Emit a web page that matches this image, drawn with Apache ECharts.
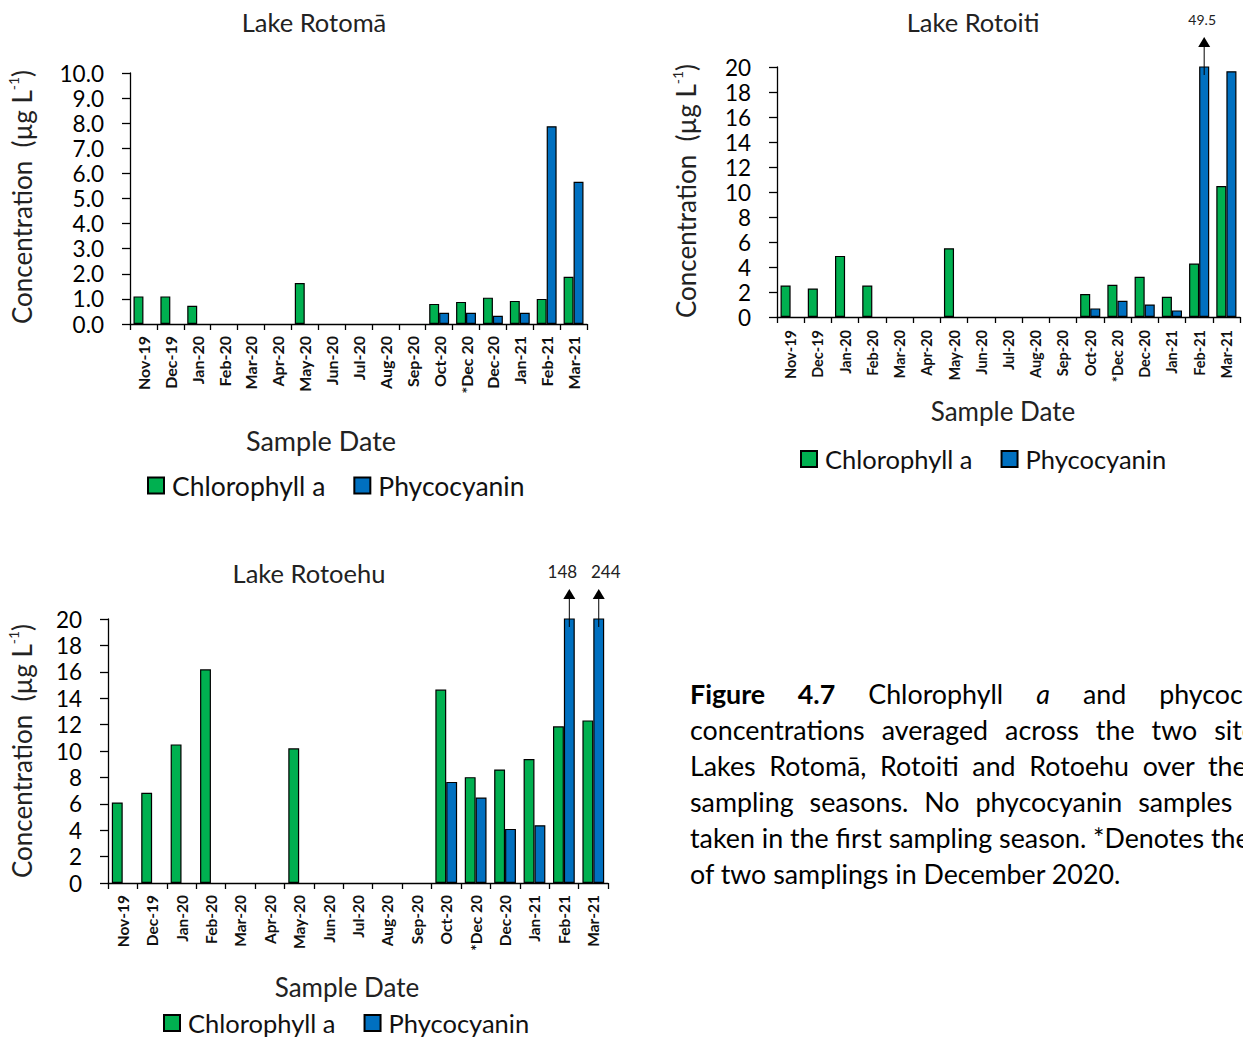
<!DOCTYPE html>
<html>
<head>
<meta charset="utf-8">
<script src="https://cdn.jsdelivr.net/npm/echarts@6/dist/echarts.min.js"></script>
<style>
  html, body { margin: 0; padding: 0; background: #fff; width: 1243px; height: 1040px; overflow: hidden; }
  #chart { position: absolute; left: 0; top: 0; width: 1243px; height: 1040px; }
  #caption { position: absolute; left: 690px; top: 676px; width: 616px;
             font-family: Lato, sans-serif; font-size: 26.8px; line-height: 36px; color: #000; }
  #caption div { white-space: nowrap; }
  #caption .j { text-align: justify; text-align-last: justify; white-space: normal; }
</style>
</head>
<body>
<div id="chart"></div>
<div id="caption">
  <div class="j"><b>Figure 4.7</b> Chlorophyll <i>a</i> and phycocyanin</div>
  <div class="j">concentrations averaged across the two sites in</div>
  <div class="j">Lakes Rotomā, Rotoiti and Rotoehu over the two</div>
  <div class="j">sampling seasons. No phycocyanin samples were</div>
  <div>taken in the first sampling season. *Denotes the first</div>
  <div>of two samplings in December 2020.</div>
</div>
<script>
// Sampling months (x categories, shared by all three lakes)
const months = ['Nov-19', 'Dec-19', 'Jan-20', 'Feb-20', 'Mar-20', 'Apr-20', 'May-20', 'Jun-20',
  'Jul-20', 'Aug-20', 'Sep-20', 'Oct-20', '*Dec 20', 'Dec-20', 'Jan-21', 'Feb-21', 'Mar-21'];

// Concentrations in µg/L (null = not sampled)
const rotomaChl = [1.1, 1.1, 0.73, null, null, null, 1.63, null, null, null, null, 0.8, 0.88, 1.05, 0.92, 1.0, 1.88];
const rotomaPhy = [null, null, null, null, null, null, null, null, null, null, null, 0.45, 0.45, 0.33, 0.45, 7.88, 5.67];

const rotoitiChl = [2.52, 2.28, 4.89, 2.52, null, null, 5.5, null, null, null, null, 1.84, 2.58, 3.22, 1.62, 4.28, 10.48];
const rotoitiPhy = [null, null, null, null, null, null, null, null, null, null, null, 0.69, 1.3, 1.0, 0.53, 49.5, 19.66];

const rotoehuChl = [6.1, 6.83, 10.5, 16.19, null, null, 10.2, null, null, null, null, 14.65, 8.02, 8.6, 9.39, 11.87, 12.32];
const rotoehuPhy = [null, null, null, null, null, null, null, null, null, null, null, 7.66, 6.48, 4.1, 4.38, 148, 244];

const GREEN = '#00B050';
const BLUE = '#0070C0';
const FONT = 'Lato';
const BAR_FRAC = 0.37;   // each bar as a fraction of the category width

const panels = [
  { title: 'Lake Rotomā', chl: rotomaChl, phy: rotomaPhy, yMax: 10, yStep: 1, decimals: 1,
    grid: { left: 130, top: 73, width: 457, height: 251 },
    titlePos: [314, 22], xNamePos: [321, 440], xNameSize: 27, yNamePos: [22, 197],
    legend: { left: 147, top: 472, font: 26.5 }, yLabelSize: 22.5, xLabelSize: 16, xLabelMargin: 12,
    arrowFont: 14, arrowLabelDx: [] },
  { title: 'Lake Rotoiti', chl: rotoitiChl, phy: rotoitiPhy, yMax: 20, yStep: 2, decimals: 0,
    grid: { left: 777, top: 67, width: 463, height: 250 },
    titlePos: [973, 22], xNamePos: [1003, 411], xNameSize: 26, yNamePos: [686, 191],
    legend: { left: 800, top: 446, font: 25.5 }, yLabelSize: 22.5, xLabelSize: 14.5, xLabelMargin: 13,
    arrowFont: 14, arrowLabelDx: [-2] },
  { title: 'Lake Rotoehu', chl: rotoehuChl, phy: rotoehuPhy, yMax: 20, yStep: 2, decimals: 0,
    grid: { left: 108, top: 619, width: 500, height: 264 },
    titlePos: [309, 573], xNamePos: [347, 987], xNameSize: 26, yNamePos: [22, 751],
    legend: { left: 163, top: 1010, font: 25.5 }, yLabelSize: 22.5, xLabelSize: 15.5, xLabelMargin: 12,
    arrowFont: 17, arrowLabelDx: [-7, 7] }
];

// Upward arrow + value for bars that run past the top of the axis
function overflowArrow(p) {
  return function (params, api) {
    const k = api.value(0);
    const v = api.value(1);
    const top = api.coord([k, p.yMax]);
    const catW = api.size([1, 0])[0];
    const x = top[0] + catW * BAR_FRAC / 2;
    const tip = top[1] - 30;
    const dx = p.arrowLabelDx[params.dataIndex] || 0;
    return {
      type: 'group',
      children: [
        { type: 'line', shape: { x1: x, y1: top[1] + 8, x2: x, y2: tip + 8 },
          style: { stroke: '#000', lineWidth: 1 } },
        { type: 'polygon', shape: { points: [[x, tip], [x - 6, tip + 10], [x + 6, tip + 10]] },
          style: { fill: '#000' } },
        { type: 'text', x: x + dx, y: tip - 18,
          style: { text: String(v), align: 'center', verticalAlign: 'middle',
                   font: p.arrowFont + 'px ' + FONT, fill: '#222' } }
      ]
    };
  };
}

const option = {
  animation: false,
  backgroundColor: '#fff',
  grid: panels.map(p => Object.assign({ containLabel: false }, p.grid)),
  xAxis: panels.map((p, i) => ({
    type: 'category', gridIndex: i, data: months,
    axisLine: { lineStyle: { color: '#000', width: 1.3 } },
    axisTick: { show: true, length: 6, lineStyle: { color: '#000', width: 1.3 } },
    axisLabel: { rotate: 90, interval: 0, margin: p.xLabelMargin, fontSize: p.xLabelSize,
                 fontWeight: 'bold', fontFamily: FONT, color: '#111' }
  })),
  yAxis: panels.map((p, i) => ({
    type: 'value', gridIndex: i, min: 0, max: p.yMax, interval: p.yStep,
    axisLine: { show: true, lineStyle: { color: '#000', width: 1.3 } },
    axisTick: { show: true, length: 8, lineStyle: { color: '#000', width: 1.3 } },
    splitLine: { show: false },
    axisLabel: { formatter: v => v.toFixed(p.decimals), fontSize: p.yLabelSize, fontFamily: FONT,
                 color: '#000', margin: 26, lineHeight: 20 }
  })),
  legend: panels.map(p => ({
    data: ['Chlorophyll a', 'Phycocyanin'],
    left: p.legend.left, top: p.legend.top, padding: 0,
    icon: 'rect', itemWidth: 16, itemHeight: 16, itemGap: 28,
    selectedMode: false,
    textStyle: { fontSize: p.legend.font, fontFamily: FONT, color: '#111', lineHeight: 26, padding: [0, 0, 0, 3] }
  })),
  series: panels.flatMap((p, i) => [
    { type: 'bar', name: 'Chlorophyll a', xAxisIndex: i, yAxisIndex: i, data: p.chl,
      barWidth: (BAR_FRAC * 100) + '%', barGap: '0%',
      itemStyle: { color: GREEN, borderColor: '#000', borderWidth: 1.2 } },
    { type: 'bar', name: 'Phycocyanin', xAxisIndex: i, yAxisIndex: i, data: p.phy,
      barWidth: (BAR_FRAC * 100) + '%', barGap: '0%',
      itemStyle: { color: BLUE, borderColor: '#000', borderWidth: 1.2 } },
    { type: 'custom', name: 'overflow', xAxisIndex: i, yAxisIndex: i, silent: true, clip: false, z: 5,
      data: months.map((m, k) => [k, p.phy[k]]).filter(d => d[1] != null && d[1] > p.yMax),
      renderItem: overflowArrow(p) }
  ]),
  graphic: panels.flatMap(p => [
    { type: 'text', x: p.titlePos[0], y: p.titlePos[1],
      style: { text: p.title, align: 'center', verticalAlign: 'middle', font: '25.5px ' + FONT, fill: '#222' } },
    { type: 'text', x: p.xNamePos[0], y: p.xNamePos[1],
      style: { text: 'Sample Date', align: 'center', verticalAlign: 'middle', font: p.xNameSize + 'px ' + FONT, fill: '#222' } },
    { type: 'text', x: p.yNamePos[0], y: p.yNamePos[1], rotation: Math.PI / 2,
      style: { text: '{t|Concentration  (µg L}{s|-1}{t|)}', align: 'center', verticalAlign: 'middle',
               rich: { t: { fontSize: 26, fontFamily: FONT, fill: '#222', lineHeight: 32, verticalAlign: 'middle' },
                       s: { fontSize: 14, fontFamily: FONT, fill: '#222', lineHeight: 32, verticalAlign: 'top' } } } }
  ])
};

const chart = echarts.init(document.getElementById('chart'), null, { renderer: 'svg', width: 1243, height: 1040 });
chart.setOption(option);
</script>
</body>
</html>
